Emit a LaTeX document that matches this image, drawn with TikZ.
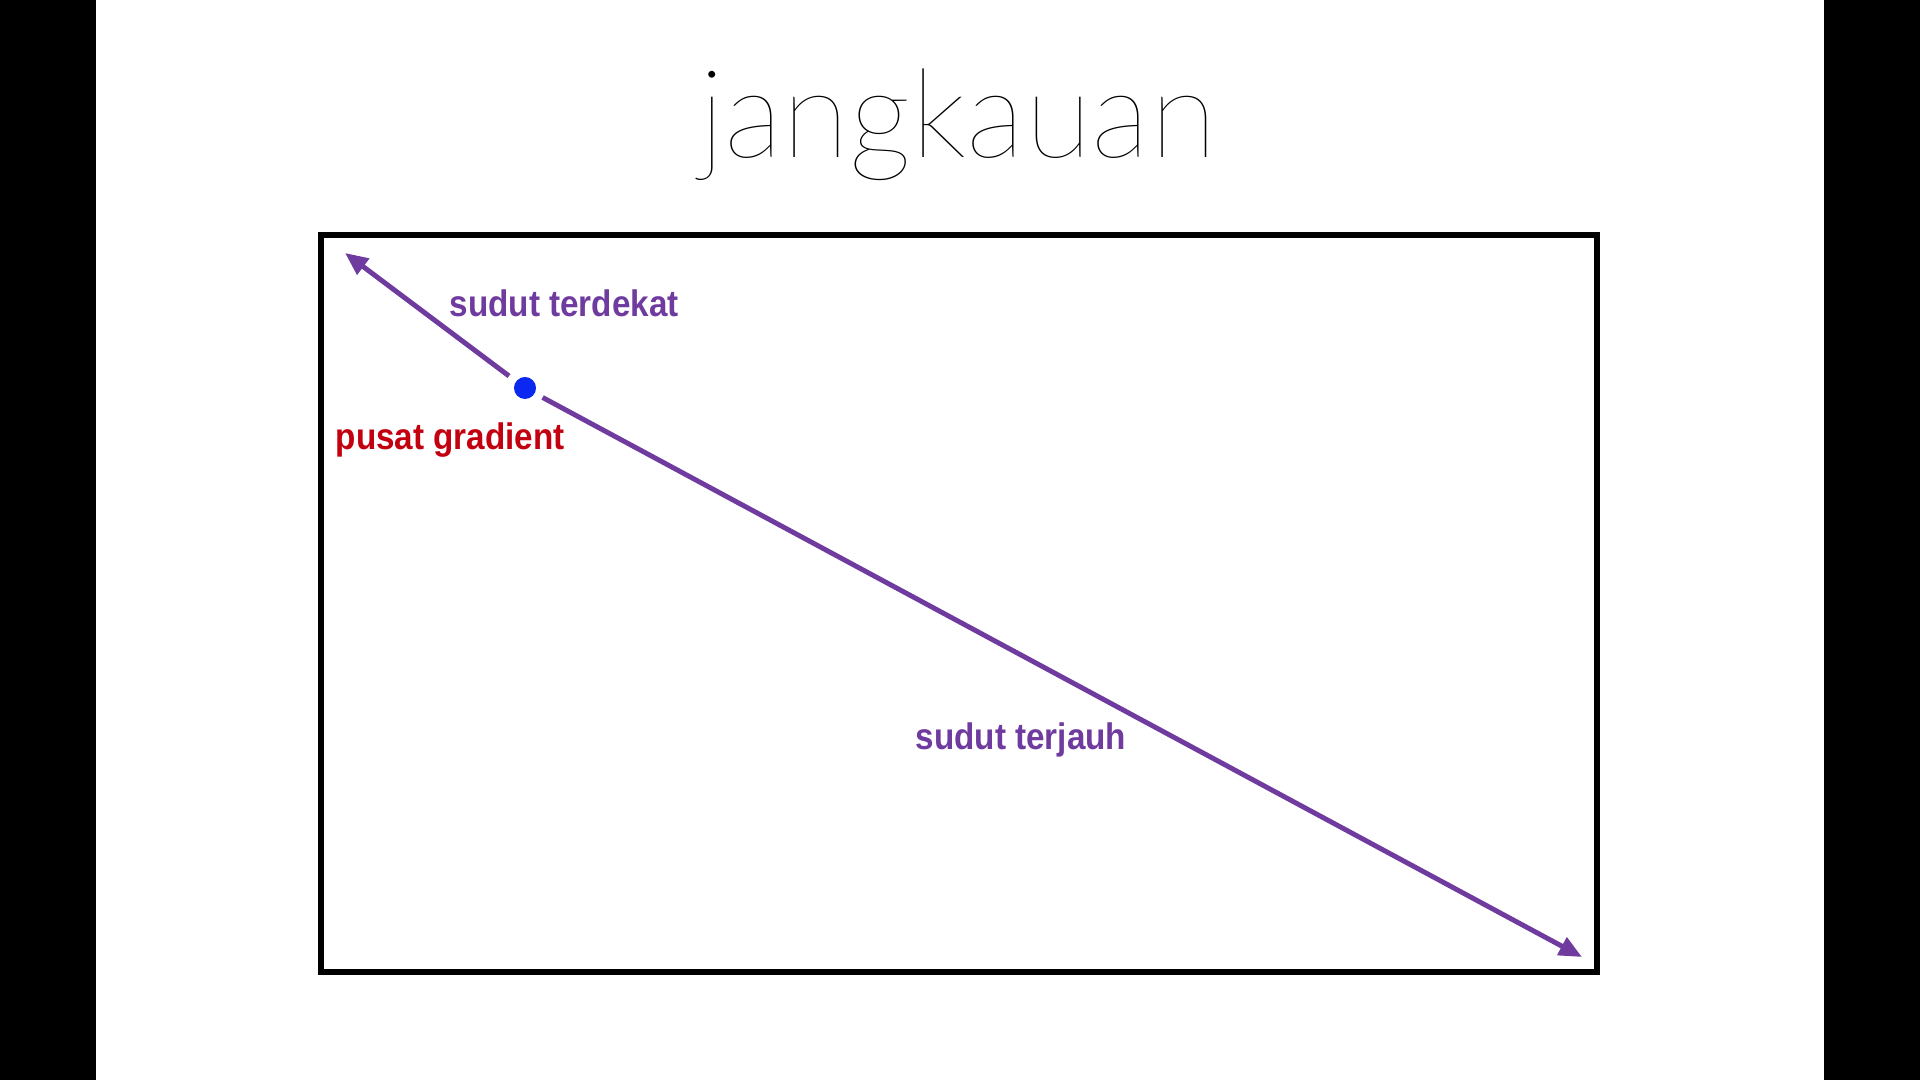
\documentclass[tikz,border=0pt]{standalone}
\usepackage{fontspec}
\setmainfont{Liberation Sans}
\newfontfamily\titlefont{Lato Thin}
\newfontfamily\labelfont{Liberation Sans}[FakeStretch=0.9]
\usetikzlibrary{positioning, arrows.meta}
\definecolor{rayviolet}{HTML}{6F3B9F}
\definecolor{centrered}{HTML}{C3000F}
\definecolor{dotblue}{HTML}{0A28F0}

\begin{document}
\begin{tikzpicture}[
    x=0.01cm, y=-0.01cm,
    ray/.style={
        draw=rayviolet,
        line width=1.4pt,
        -{Triangle[length=6.5pt, width=5.5pt]}
    },
    lbl/.style={
        anchor=base west,
        inner sep=0pt,
        font=\labelfont\bfseries\fontsize{10.5pt}{12pt}\selectfont
    },
    dot/.style={
        circle,
        fill=dotblue,
        minimum size=0.22cm,
        inner sep=0pt,
        outer sep=0.09cm
    }
]
\useasboundingbox (0,0) rectangle (1920,1080);
\fill[white] (0,0) rectangle (1920,1080);
\fill[black] (0,0) rectangle (96,1080);
\fill[black] (1824,0) rectangle (1920,1080);

\node (title) [anchor=base, inner sep=0pt, font=\titlefont\fontsize{35pt}{40pt}\selectfont] at (958,158) {jangkauan};

% frame
\draw[line width=1.9pt] (321,235) rectangle (1597,972);

\node (centre) [dot] at (525,388) {};
\coordinate (near) at (345,253);
\coordinate (far) at (1582,957);

\draw[ray] (centre) -- (near);
\draw[ray] (centre) -- (far);

\node (nearlbl) [lbl, text=rayviolet] at (449,317) {sudut terdekat};
\node (centrelbl) [lbl, text=centrered] at (335,450) {pusat gradient};
\node (farlbl) [lbl, text=rayviolet] at (915,750) {sudut terjauh};

\end{tikzpicture}
\end{document}
